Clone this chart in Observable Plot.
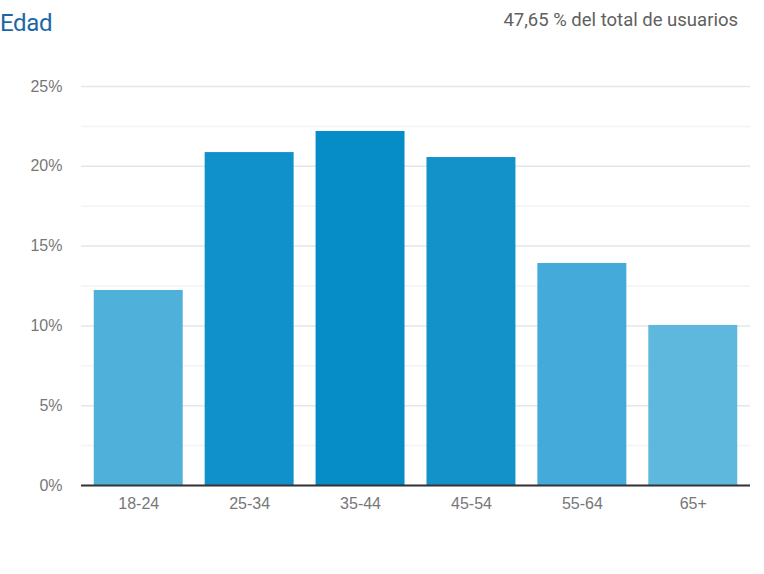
<!DOCTYPE html>
<html>
<head>
<meta charset="utf-8">
<script src="https://cdn.jsdelivr.net/npm/d3@7"></script>
<script src="https://cdn.jsdelivr.net/npm/@observablehq/plot@0.6"></script>
<style>
  html, body { margin: 0; padding: 0; background: #fff; }
  #wrap { width: 764px; height: 574px; position: relative; overflow: hidden; }
  #header { height: 44px; position: relative; }
  #title { position: absolute; left: 0; top: 9px; font-family: Roboto, sans-serif; font-size: 24px; line-height: 28px; color: #1b67a6; letter-spacing: -0.3px; }
  #subtitle { position: absolute; right: 26px; top: 9px; font-family: Roboto, sans-serif; font-size: 18.5px; line-height: 22px; color: #5f5f5f; }
</style>
</head>
<body>
<div id="wrap">
  <div id="header">
    <div id="title">Edad</div>
    <div id="subtitle">47,65 % del total de usuarios</div>
  </div>
  <div id="chart"></div>
</div>
<script>
const categories = ["18-24", "25-34", "35-44", "45-54", "55-64", "65+"];
const values = [12.22, 20.86, 22.18, 20.55, 13.91, 10.03];
const barColors = ["#4fb1da", "#1191cb", "#068dc7", "#1392ca", "#43aad9", "#5eb8de"];
const majorTicks = [0, 5, 10, 15, 20, 25];
const minorTicks = [2.5, 7.5, 12.5, 17.5, 22.5];

const data = categories.map((c, i) => ({ age: c, pct: values[i] }));

const chart = Plot.plot({
  width: 764,
  height: 530,
  marginLeft: 81,
  marginRight: 14,
  marginTop: 42,
  marginBottom: 89,
  style: { fontFamily: "'Liberation Sans', Arial, sans-serif", fontSize: "16px", color: "#777777", background: "#fff" },
  x: { domain: categories, paddingInner: 0.198, paddingOuter: 0.115, round: false, label: null },
  y: { domain: [0, 25], label: null },
  color: { domain: categories, range: barColors },
  marks: [
    Plot.ruleY(minorTicks, { stroke: "#f3f3f3", strokeWidth: 1.5 }),
    Plot.ruleY(majorTicks, { stroke: "#e6e6e6", strokeWidth: 1.5 }),
    Plot.barY(data, { x: "age", y: "pct", fill: "age" }),
    Plot.ruleY([0], { stroke: "#333", strokeWidth: 2 }),
    Plot.axisY({ ticks: majorTicks, tickFormat: d => d + "%", tickSize: 0, tickPadding: 19, label: null, fontSize: 16 }),
    Plot.axisX({ tickSize: 0, tickPadding: 12, label: null, fontSize: 16 })
  ]
});
document.getElementById("chart").appendChild(chart);
</script>
</body>
</html>
